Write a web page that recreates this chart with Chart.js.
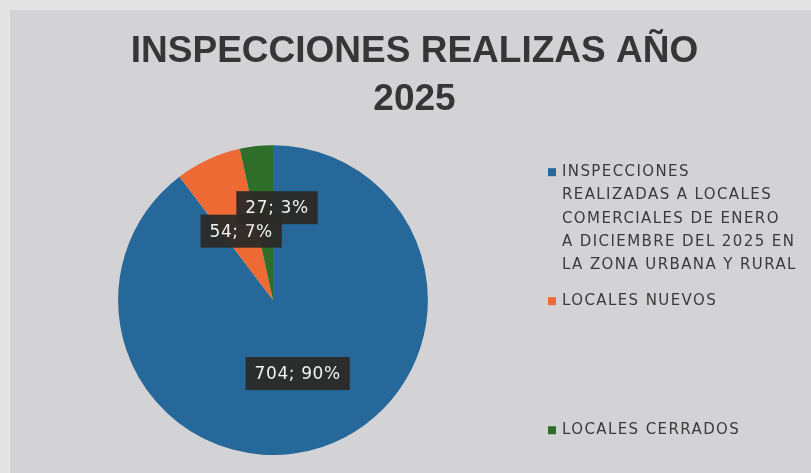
<!DOCTYPE html>
<html><head><meta charset="utf-8">
<script src="https://cdn.jsdelivr.net/npm/chart.js@4.4.1/dist/chart.umd.min.js"></script>
<style>
html,body{margin:0;padding:0;background:#e4e4e4;}
#wrap{position:relative;width:811px;height:473px;}
</style></head><body>
<div id="wrap"><canvas id="c"></canvas></div>
<script>
const categories = [
  ['INSPECCIONES', 'REALIZADAS A LOCALES', 'COMERCIALES DE ENERO', 'A DICIEMBRE DEL 2025 EN', 'LA ZONA URBANA Y RURAL'],
  ['LOCALES NUEVOS'],
  ['LOCALES CERRADOS']
];
const values = [704, 54, 27];
const sliceColors = ['#256899', '#ee6a35', '#2f6e2a'];
const titleLines = ['INSPECCIONES REALIZAS AÑO', '2025'];

const bgPlugin = {
  id: 'bg',
  beforeDraw(chart) {
    const {ctx, width, height} = chart;
    ctx.save();
    ctx.fillStyle = '#e4e4e4';
    ctx.fillRect(0, 0, width, height);
    ctx.fillStyle = '#d3d3d5';
    ctx.fillRect(10, 10, width - 10, height - 10);
    ctx.restore();
  }
};

function drawLegend(chart, box) {
  const ctx = chart.ctx;
  const labels = chart.data.labels;
  const colors = chart.data.datasets[0].backgroundColor;
  ctx.save();
  ctx.font = '15px "DejaVu Sans", sans-serif';
  ctx.letterSpacing = '1.4px';
  ctx.textBaseline = 'middle';
  ctx.textAlign = 'left';
  const x0 = box.left + 20;
  const y0 = box.top + 27;
  labels.forEach((lines, i) => {
    const y = y0 + i * 129;
    ctx.fillStyle = colors[i];
    ctx.fillRect(x0, y - 4, 8, 8);
    ctx.fillStyle = '#3a3a3a';
    lines.forEach((ln, j) => ctx.fillText(ln, x0 + 14, y + j * 23.3));
  });
  ctx.restore();
}

const legendPlugin = {
  id: 'sideLegend',
  beforeInit(chart) {
    const box = {
      position: 'right', weight: 100, fullSize: false,
      options: { stackWeight: 1 },
      left: 0, top: 0, right: 0, bottom: 0, width: 0, height: 0,
      isHorizontal() { return false; },
      update(maxW, maxH) { this.width = 283; this.height = maxH; return {width: 283, height: maxH}; },
      getPadding() { return {top: 0, left: 0, right: 0, bottom: 0}; },
      draw() { drawLegend(chart, this); }
    };
    Chart.layouts.addBox(chart, box);
  }
};

const labelPlugin = {
  id: 'sliceLabels',
  afterDatasetsDraw(chart, args, opts) {
    const ctx = chart.ctx;
    const meta = chart.getDatasetMeta(0);
    const data = chart.data.datasets[0].data;
    const total = data.reduce((a, b) => a + b, 0);
    ctx.save();
    ctx.font = '17px "DejaVu Sans", sans-serif';
    ctx.letterSpacing = '0.6px';
    ctx.textAlign = 'center';
    ctx.textBaseline = 'middle';
    meta.data.forEach((arc, i) => {
      const p = arc.getProps(['x', 'y', 'startAngle', 'endAngle', 'outerRadius'], true);
      const mid = (p.startAngle + p.endAngle) / 2;
      const r = p.outerRadius * opts.radii[i];
      const cx = p.x + Math.cos(mid) * r + opts.nudgeX[i];
      const cy = p.y + Math.sin(mid) * r;
      const txt = data[i] + '; ' + Math.round(data[i] / total * 100) + '%';
      const w = ctx.measureText(txt).width + 18;
      const h = 33;
      ctx.fillStyle = 'rgba(44,43,40,0.96)';
      ctx.fillRect(cx - w / 2, cy - h / 2, w, h);
      ctx.fillStyle = '#f2f2f2';
      ctx.fillText(txt, cx, cy + 1);
    });
    ctx.restore();
  }
};

new Chart(document.getElementById('c'), {
  type: 'pie',
  data: {
    labels: categories,
    datasets: [{ data: values, backgroundColor: sliceColors, borderWidth: 0 }]
  },
  options: {
    responsive: true,
    maintainAspectRatio: false,
    animation: false,
    layout: { padding: { left: 18, right: 0, top: 0, bottom: 18 } },
    plugins: {
      legend: { display: false },
      tooltip: { enabled: false },
      title: {
        display: true,
        text: titleLines,
        color: '#363636',
        font: { family: "'Liberation Sans', Arial, sans-serif", size: 37, weight: 'bold', lineHeight: 1.3 },
        padding: { top: 28, bottom: 21 }
      },
      sliceLabels: { radii: [0.5, 0.49, 0.6], nudgeX: [0, 0, 14] }
    }
  },
  plugins: [bgPlugin, legendPlugin, labelPlugin]
});
</script>
</body></html>
